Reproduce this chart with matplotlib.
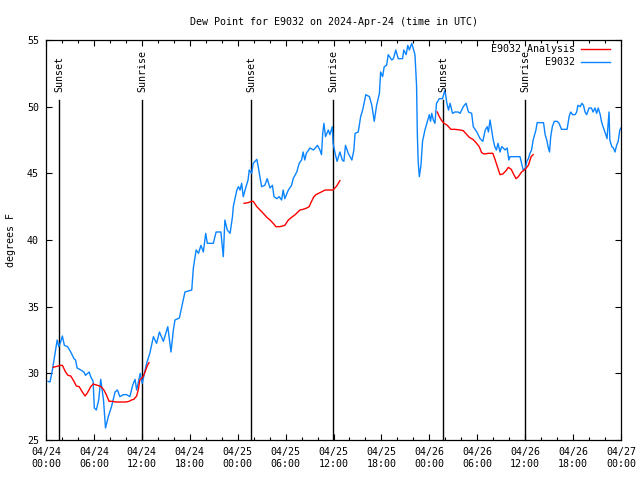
import numpy as np
import matplotlib
matplotlib.use("Agg")
import matplotlib.pyplot as plt

# ---- data (hours since 2024-04-24 00:00 UTC, degrees F) ----
obs_hours = [0.25, 0.5, 0.8, 1.2, 1.4, 1.6, 1.8, 2.05, 2.3, 2.7, 3.1, 3.5, 3.7, 3.9, 4.35, 4.75, 4.95,
             5.4, 5.6, 5.9, 6.05, 6.3, 6.6, 6.85, 7.2, 7.45, 7.8, 8.2, 8.65, 8.95, 9.25, 9.7, 10.1,
             10.5, 10.85, 11.15, 11.35, 11.8, 12.05, 12.6, 13.0, 13.45, 13.85, 14.2, 14.7, 15.25,
             15.65, 15.95, 16.15, 16.7, 17.0, 17.4, 18.25, 18.45, 18.8, 19.1, 19.4, 19.7, 20.0, 20.2,
             20.95, 21.3, 21.9, 22.2, 22.4, 22.7, 23.05, 23.35, 23.45, 23.9, 24.1, 24.3, 24.5, 24.7,
             25.05, 25.3, 25.45, 25.75, 25.95, 26.4, 26.6, 27.0, 27.4, 27.7, 28.05, 28.35, 28.55,
             28.9, 29.2, 29.5, 29.7, 29.9, 30.35, 30.75, 30.95, 31.4, 31.7, 32.0, 32.2, 32.4, 32.6,
             33.05, 33.5, 34.0, 34.3, 34.5, 34.65, 34.8, 35.0, 35.35, 35.55, 35.85, 35.95, 36.2,
             36.45, 36.8, 37.1, 37.3, 37.5, 37.85, 38.3, 38.55, 38.7, 39.1, 39.4, 39.65, 40.05,
             40.5, 40.8, 41.1, 41.4, 41.75, 41.9, 42.15, 42.35, 42.65, 42.85, 43.3, 43.5, 43.8,
             44.1, 44.65, 44.8, 45.1, 45.3, 45.5, 45.8, 46.2, 46.4, 46.5, 46.6, 46.75, 46.95, 47.15,
             47.45, 47.8, 48.0, 48.15, 48.3, 48.5, 48.7, 48.9, 49.25, 49.65, 49.95, 50.2, 50.4,
             50.6, 50.9, 51.2, 51.6, 51.85, 52.05, 52.25, 52.6, 52.9, 53.3, 53.5, 53.95, 54.35,
             54.7, 55.0, 55.25, 55.4, 55.6, 55.8, 56.0, 56.2, 56.4, 56.6, 56.85, 57.05, 57.25,
             57.5, 57.75, 57.95, 58.1, 58.95, 59.35, 59.55, 59.75, 60.05, 60.2, 60.4, 60.6, 60.8,
             61.0, 61.35, 61.5, 62.3, 62.5, 62.7, 62.9, 63.05, 63.2, 63.4, 63.65, 64.0, 64.25,
             64.55, 65.25, 65.5, 65.7, 65.95, 66.25, 66.45, 66.6, 66.9, 67.1, 67.3, 67.5, 67.7,
             68.0, 68.3, 68.5, 68.75, 68.95, 69.15, 69.4, 69.55, 69.75, 70.1, 70.25, 70.4, 70.5,
             70.6, 70.85, 71.05, 71.25, 71.45, 71.65, 71.85, 72.0]
obs_values = [29.4, 29.35, 30.25, 31.75, 32.5, 32.0, 32.3, 32.8, 32.1, 32.0, 31.6, 31.1, 31.0, 30.4,
              30.25, 30.1, 29.85, 30.1, 29.75, 29.4, 27.4, 27.25, 28.0, 29.55, 28.0, 25.9, 26.75,
              27.5, 28.6, 28.75, 28.25, 28.4, 28.4, 28.25, 29.1, 29.55, 28.75, 30.0, 29.25, 30.75,
              31.5, 32.75, 32.25, 33.1, 32.4, 33.5, 31.6, 33.25, 34.0, 34.15, 35.0, 36.1, 36.25,
              37.9, 39.25, 39.0, 39.6, 39.1, 40.5, 39.75, 39.75, 40.6, 40.6, 38.75, 41.5, 40.75,
              40.5, 41.75, 42.5, 43.75, 44.0, 43.75, 44.25, 43.25, 44.0, 44.5, 45.25, 45.0, 45.75,
              46.05, 45.4, 44.0, 44.1, 44.6, 43.9, 44.1, 43.25, 43.1, 43.25, 43.0, 43.75, 43.1,
              43.75, 44.1, 44.6, 45.1, 45.75, 46.0, 46.6, 46.0, 46.5, 46.9, 46.75, 47.1, 46.75,
              46.4, 48.0, 48.75, 47.75, 48.25, 47.9, 48.5, 47.25, 46.5, 45.9, 46.6, 46.0, 45.9,
              47.1, 46.5, 46.0, 46.75, 48.0, 48.1, 49.25, 49.75, 50.9, 50.75, 50.1, 48.9, 50.1,
              51.0, 52.6, 52.25, 53.0, 53.1, 53.9, 53.5, 53.6, 54.25, 53.6, 53.6, 54.25, 53.9,
              54.6, 54.25, 54.75, 53.9, 51.6, 47.9, 45.9, 44.75, 45.6, 47.4, 48.25, 49.0, 49.4,
              48.9, 49.5, 49.0, 48.75, 50.25, 50.6, 50.6, 51.25, 50.25, 49.75, 50.25, 49.5, 49.6,
              49.6, 49.5, 49.75, 50.0, 50.25, 49.6, 49.5, 48.5, 48.1, 47.6, 47.4, 48.25, 48.5,
              48.1, 49.0, 48.25, 47.5, 47.0, 46.75, 47.25, 46.6, 47.0, 46.9, 46.75, 46.9, 46.0,
              46.25, 46.25, 46.25, 45.75, 45.25, 45.4, 45.9, 46.1, 46.5, 46.75, 47.5, 48.25, 48.8,
              48.8, 47.9, 47.5, 46.9, 46.6, 47.75, 48.5, 48.9, 48.9, 48.75, 48.3, 48.3, 49.25,
              49.6, 49.4, 49.4, 49.6, 50.1, 50.0, 50.25, 50.1, 49.6, 49.4, 49.9, 49.9, 49.6, 49.9,
              49.5, 49.9, 49.4, 48.9, 48.5, 47.9, 47.6, 48.75, 49.6, 47.5, 47.0, 46.9, 46.6, 47.1,
              47.4, 48.25, 48.4]

ana_hours = [0.9, 1.2, 1.85, 2.05, 2.45, 2.75, 3.1, 3.5, 3.8, 4.15, 4.55, 4.9, 5.2, 5.6, 5.9, 6.45,
             6.9, 7.25, 7.55, 7.9, 8.3, 8.75, 9.35, 10.0, 10.4, 10.7, 11.0, 11.35, 11.55, 11.75,
             12.15, 12.4, 12.7, 12.9,
             np.nan,
             24.8, 25.3, 25.75, 25.95, 26.4, 26.8, 27.2, 27.65, 28.05, 28.45, 28.8, 29.3, 29.9,
             30.35, 30.75, 31.2, 31.8, 32.2, 32.65, 32.95, 33.25, 33.55, 33.8, 34.3, 34.95, 35.55,
             35.95, 36.4, 36.8,
             np.nan,
             49.0, 49.25, 49.55, 49.85, 50.25, 50.7, 51.2, 51.85, 52.25, 52.7, 53.0, 53.45, 53.85,
             54.25, 54.55, 54.85, 55.4, 55.95, 56.25, 56.55, 56.85, 57.2, 57.6, 57.9, 58.25, 58.5,
             58.85, 59.15, 59.55, 60.0, 60.4, 60.75, 61.0]
ana_values = [30.45, 30.5, 30.6, 30.6, 30.1, 29.85, 29.8, 29.4, 29.05, 29.0, 28.6, 28.3, 28.55,
              29.0, 29.2, 29.1, 29.0, 28.75, 28.4, 27.9, 27.9, 27.85, 27.85, 27.85, 27.9, 28.0,
              28.05, 28.3, 28.75, 29.5, 29.75, 30.1, 30.6, 30.8,
              np.nan,
              42.75, 42.8, 42.9, 42.9, 42.5, 42.25, 42.0, 41.7, 41.5, 41.25, 41.0, 41.0, 41.1,
              41.5, 41.7, 41.9, 42.25, 42.3, 42.4, 42.5, 42.9, 43.25, 43.4, 43.55, 43.75, 43.75,
              43.75, 44.05, 44.45,
              np.nan,
              49.6, 49.25, 48.95, 48.75, 48.6, 48.3, 48.3, 48.25, 48.2, 47.9, 47.7, 47.55, 47.3,
              47.0, 46.55, 46.45, 46.5, 46.5, 46.0, 45.45, 44.9, 44.95, 45.2, 45.45, 45.3, 45.0,
              44.6, 44.75, 45.1, 45.3, 45.6, 46.25, 46.4]

sun_hours = [1.66, 12.06, 25.7, 35.98, 49.75, 60.02]
sun_labels = ["Sunset", "Sunrise", "Sunset", "Sunrise", "Sunset", "Sunrise"]

xtick_hours = [0, 6, 12, 18, 24, 30, 36, 42, 48, 54, 60, 66, 72]
xtick_labels = ["04/24\n00:00", "04/24\n06:00", "04/24\n12:00", "04/24\n18:00",
                "04/25\n00:00", "04/25\n06:00", "04/25\n12:00", "04/25\n18:00",
                "04/26\n00:00", "04/26\n06:00", "04/26\n12:00", "04/26\n18:00",
                "04/27\n00:00"]
yticks = [25, 30, 35, 40, 45, 50, 55]

# ---- plot ----
FONT = "DejaVu Sans Mono"
FS = 7.2
plt.rcParams['font.family'] = FONT
plt.rcParams['font.size'] = FS

fig = plt.figure(figsize=(6.4, 4.8), dpi=100)
ax = fig.add_axes([46/640, 1-440/480, 575/640, 400/480])

BLUE = "#0a84ff"
RED = "#ff0000"

for h, lab in zip(sun_hours, sun_labels):
    ax.plot([h, h], [25, 55 - (100-40)/400*30], color="black", lw=1.0, zorder=1)
    ax.text(h, 55 - (92-40)/400*30, lab, rotation=90, ha="center", va="bottom",
            fontsize=FS, family=FONT)

ax.plot(ana_hours, ana_values, color=RED, lw=1.0, zorder=3)
ax.plot(obs_hours, obs_values, color=BLUE, lw=1.0, zorder=2)

ax.set_xlim(0, 72)
ax.set_ylim(25, 55)
ax.set_xticks(xtick_hours)
ax.set_xticklabels(xtick_labels, linespacing=1.25)
ax.set_xticks(np.arange(0, 73, 2), minor=True)
ax.set_yticks(yticks)
ax.set_yticklabels([str(v) for v in yticks])

ax.tick_params(which="both", direction="in", top=True, right=True, width=0.8)
ax.tick_params(which="major", length=4, pad=5)
ax.tick_params(which="minor", length=2.5)
for s in ax.spines.values():
    s.set_linewidth(0.9)

ax.set_ylabel("degrees F", labelpad=8)
ax.set_title("Dew Point for E9032 on 2024-Apr-24 (time in UTC)", pad=11, fontsize=FS)

# legend (manual, gnuplot style)
for yfrac, lab, col in [((440-49)/400, "E9032 Analysis", RED), ((440-62)/400, "E9032", BLUE)]:
    ax.text((575-46)/575, yfrac, lab, transform=ax.transAxes, ha="right", va="center",
            fontsize=FS, family=FONT)
    ax.plot([(581-46)/575, (610-46)/575], [yfrac, yfrac], color=col, lw=1.0,
            transform=ax.transAxes, clip_on=False)

fig.savefig("out.png", dpi=100)
